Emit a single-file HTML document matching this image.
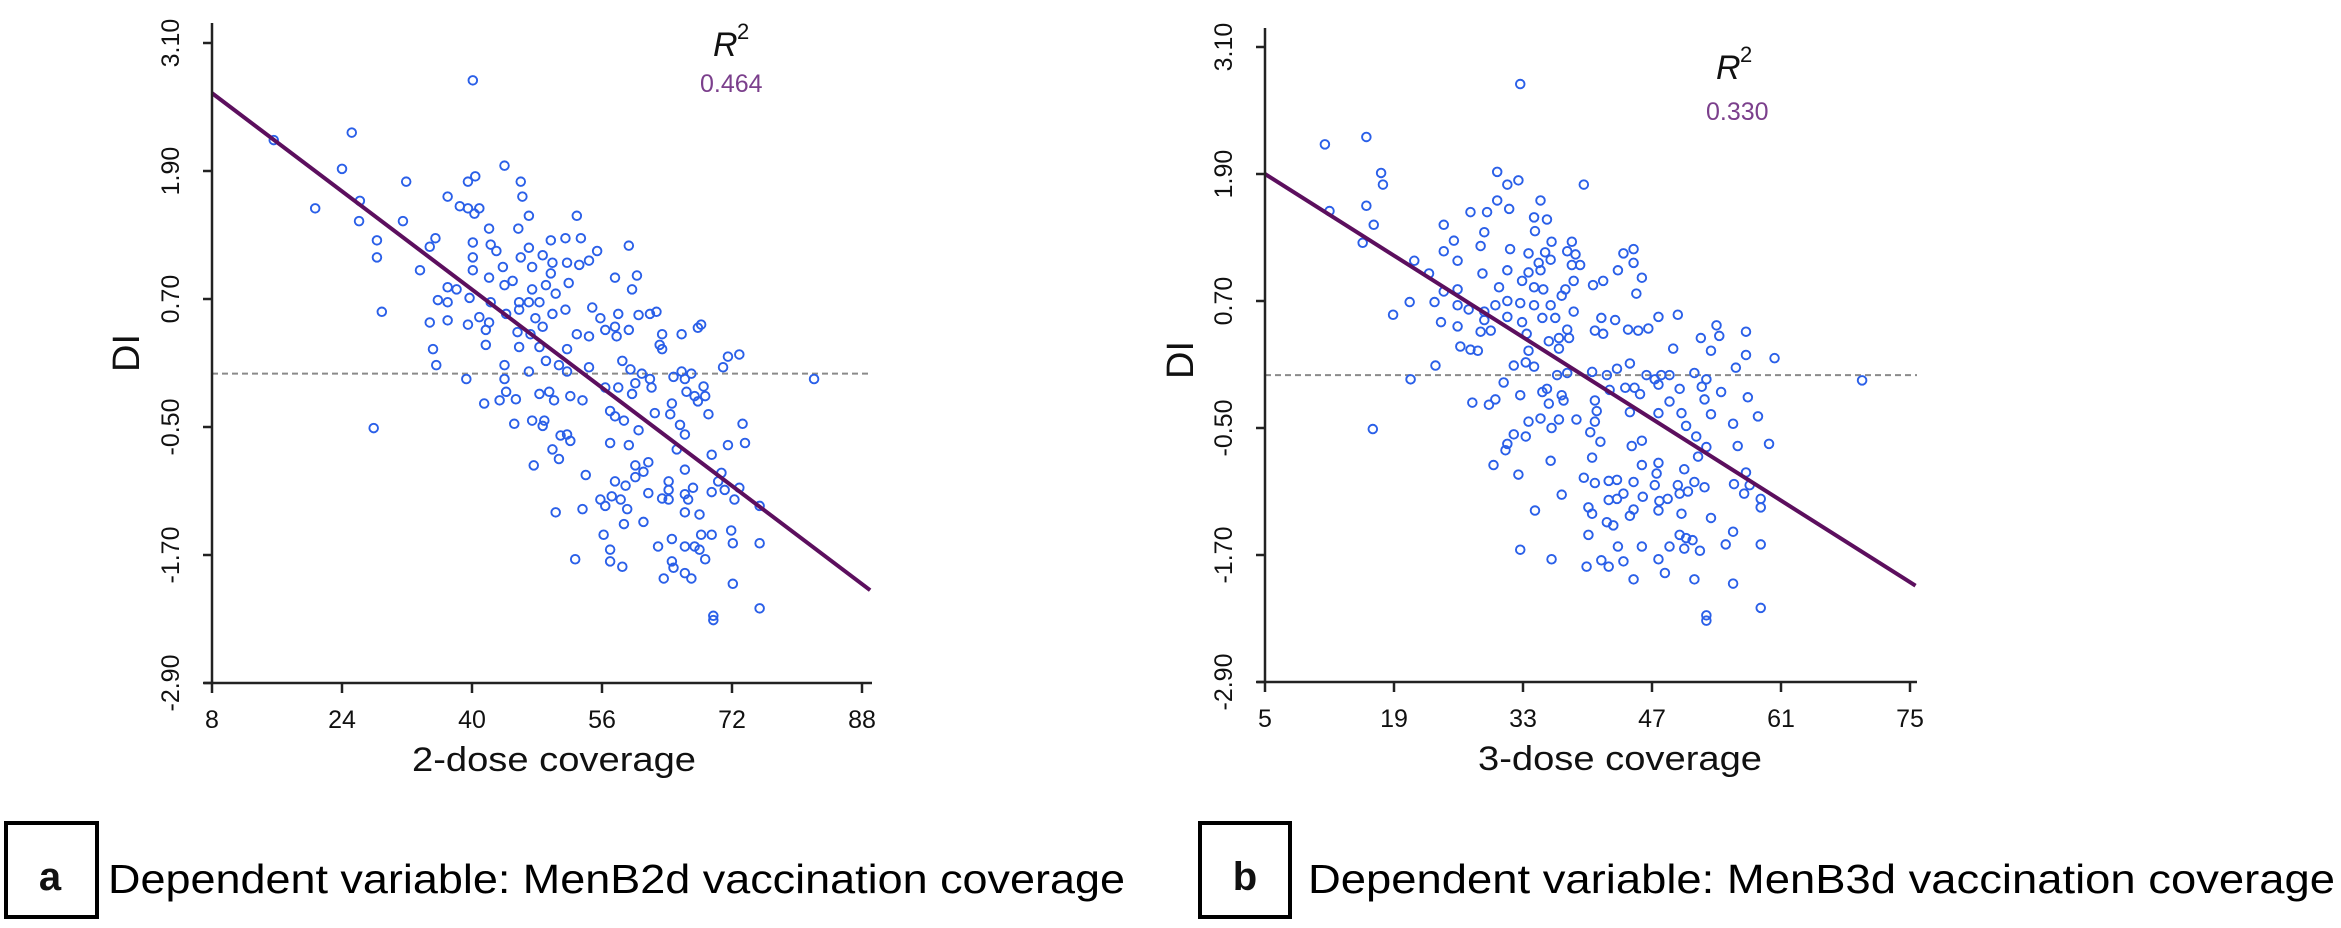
<!DOCTYPE html>
<html><head><meta charset="utf-8"><style>
html,body{margin:0;padding:0;background:#fff;}
svg{display:block;font-family:"Liberation Sans",Arial,sans-serif;}
</style></head><body>
<svg id="fig" width="2341" height="928" viewBox="0 0 2341 928" xmlns="http://www.w3.org/2000/svg">
<g id="chartA"></g>
<g id="chartB"></g>
<g>
<rect x="6" y="823" width="91" height="94" fill="none" stroke="#000" stroke-width="4"/>
<text x="50" y="890" font-size="40" font-weight="bold" text-anchor="middle" fill="#111">a</text>
<text x="108" y="893" font-size="41" textLength="1017" lengthAdjust="spacingAndGlyphs">Dependent variable: MenB2d vaccination coverage</text>
</g>
<g>
<rect x="1200" y="823" width="90" height="94" fill="none" stroke="#000" stroke-width="4"/>
<text x="1245" y="890" font-size="40" font-weight="bold" text-anchor="middle" fill="#111">b</text>
<text x="1308" y="893" font-size="41" textLength="1027" lengthAdjust="spacingAndGlyphs">Dependent variable: MenB3d vaccination coverage</text>
</g>
</svg>
<script>
// ---- Chart A data (2-dose coverage vs DI) ----
const aXTicks = [8, 24, 40, 56, 72, 88];
const aYTicks = [3.10, 1.90, 0.70, -0.50, -1.70, -2.90];
const aFit = [[8, 2.63], [89, -2.03]];
const aR2 = "0.464";
const aX = [15.6,24.0,20.7,40.1,25.2,31.9,44.0,39.5,40.4,46.0,46.2,37.0,38.5,39.5,40.9,40.3,26.2,26.1,31.5,47.0,52.9,42.1,45.7,28.3,28.3,35.5,34.8,40.1,40.1,40.1,42.3,43.0,47.0,46.0,49.7,51.5,53.4,55.4,59.3,48.7,49.9,51.7,53.2,54.4,47.4,43.8,33.6,49.7,42.1,44.0,45.0,57.6,60.3,59.7,37.0,38.1,35.8,37.0,39.7,42.3,45.8,47.4,49.1,50.3,51.9,47.0,48.3,28.9,34.8,37.0,39.5,40.9,42.1,44.2,45.8,47.8,49.9,51.5,54.8,55.8,58.0,60.5,61.9,62.7,41.7,45.6,47.2,48.7,52.9,54.4,56.4,57.6,59.3,57.8,63.4,65.8,67.8,68.2,35.2,35.6,41.7,45.8,48.3,51.7,63.1,63.4,44.0,47.0,49.1,50.7,51.7,54.4,58.5,59.5,60.9,65.8,67.0,70.9,71.5,72.9,82.1,39.3,44.0,56.4,58.0,60.1,61.9,64.8,66.2,68.5,41.5,43.4,45.4,44.2,48.3,49.5,50.1,52.1,53.6,59.7,62.1,66.4,67.4,67.8,68.7,27.9,45.2,47.4,48.9,48.7,57.0,58.7,57.6,62.5,64.4,64.6,69.1,73.3,50.9,51.7,52.1,57.0,59.3,60.5,65.6,66.2,65.2,71.5,73.6,69.5,49.9,50.7,47.6,54.0,60.1,61.7,61.1,66.2,70.7,57.6,58.9,60.1,61.7,64.2,64.2,67.2,66.2,69.5,70.3,71.1,72.9,55.8,57.2,58.3,56.4,59.1,63.4,64.2,66.6,72.3,50.3,53.6,66.2,68.0,75.4,58.7,61.1,56.2,62.9,64.6,66.2,67.4,68.2,69.5,68.0,71.9,72.1,75.4,52.7,57.0,57.0,58.5,64.6,64.8,68.7,63.6,66.2,67.0,72.1,75.4,69.7,69.7];
const aY = [2.19,1.92,1.55,2.75,2.26,1.80,1.95,1.80,1.85,1.80,1.66,1.66,1.57,1.55,1.55,1.50,1.62,1.43,1.43,1.48,1.48,1.36,1.36,1.25,1.09,1.27,1.19,1.23,1.09,0.97,1.21,1.15,1.18,1.09,1.25,1.27,1.27,1.15,1.20,1.11,1.04,1.04,1.02,1.06,1.00,1.00,0.97,0.94,0.90,0.83,0.87,0.90,0.92,0.79,0.81,0.79,0.69,0.67,0.71,0.67,0.67,0.79,0.83,0.75,0.85,0.67,0.67,0.58,0.48,0.50,0.46,0.53,0.48,0.56,0.60,0.52,0.56,0.60,0.62,0.52,0.56,0.55,0.56,0.58,0.41,0.39,0.37,0.44,0.37,0.35,0.41,0.44,0.41,0.35,0.37,0.37,0.43,0.46,0.23,0.08,0.27,0.25,0.25,0.23,0.27,0.23,0.08,0.02,0.12,0.08,0.02,0.06,0.12,0.04,0.00,0.02,0.00,0.06,0.16,0.18,-0.05,-0.05,-0.05,-0.13,-0.13,-0.09,-0.05,-0.03,-0.05,-0.12,-0.28,-0.25,-0.24,-0.17,-0.19,-0.17,-0.25,-0.21,-0.25,-0.19,-0.13,-0.17,-0.21,-0.26,-0.21,-0.51,-0.47,-0.44,-0.44,-0.49,-0.35,-0.44,-0.40,-0.37,-0.38,-0.28,-0.38,-0.47,-0.58,-0.57,-0.63,-0.65,-0.67,-0.53,-0.48,-0.57,-0.71,-0.67,-0.65,-0.76,-0.71,-0.80,-0.86,-0.95,-0.86,-0.83,-0.92,-0.90,-0.93,-1.01,-1.05,-0.97,-1.12,-1.01,-1.09,-1.07,-1.13,-1.11,-1.01,-1.09,-1.07,-1.18,-1.15,-1.18,-1.24,-1.27,-1.17,-1.18,-1.18,-1.18,-1.30,-1.27,-1.30,-1.32,-1.24,-1.41,-1.39,-1.51,-1.62,-1.55,-1.62,-1.62,-1.51,-1.51,-1.65,-1.47,-1.59,-1.59,-1.74,-1.65,-1.76,-1.81,-1.76,-1.82,-1.74,-1.92,-1.87,-1.92,-1.97,-2.20,-2.27,-2.31];

// ---- Chart B data (3-dose coverage vs DI) ----
const bXTicks = [5, 19, 33, 47, 61, 75];
const bYTicks = [3.10, 1.90, 0.70, -0.50, -1.70, -2.90];
const bFit = [[5, 1.90], [75.6, -1.99]];
const bR2 = "0.330";
const bX = [32.7,11.5,16.0,17.6,17.8,12.0,16.0,16.8,15.6,30.2,32.5,31.3,39.6,30.2,34.9,27.3,29.1,31.5,34.2,35.6,24.4,28.8,34.3,25.5,28.4,24.4,25.9,31.6,33.6,36.1,38.3,35.4,37.8,38.7,34.7,36.0,38.3,39.2,43.9,45.0,45.0,43.3,45.9,45.3,28.6,31.3,33.6,34.9,32.9,34.2,35.2,30.4,38.5,37.6,40.6,41.7,21.2,22.8,24.4,25.9,20.7,23.4,18.9,25.9,27.1,28.8,30.0,31.3,32.7,34.2,36.0,37.2,38.5,24.1,25.9,28.8,28.4,29.5,31.3,32.9,35.1,36.5,37.8,33.4,41.5,43.0,40.8,41.7,44.4,45.5,46.6,47.7,49.8,26.2,27.3,28.1,35.8,36.9,38.0,33.6,36.9,52.3,54.0,54.3,57.2,49.3,53.4,57.2,60.3,56.1,23.5,20.8,32.0,33.3,34.2,30.9,36.7,37.8,40.5,42.1,43.2,44.6,46.4,47.3,48.0,48.9,51.6,52.9,27.5,29.3,30.0,32.7,35.1,35.6,35.8,37.2,37.4,40.8,42.4,44.1,45.1,45.7,47.7,50.0,52.4,54.5,52.7,48.9,57.4,41.0,44.6,47.7,50.2,53.4,58.5,55.8,16.7,33.6,34.9,36.1,36.9,38.8,40.8,40.3,32.0,31.3,33.3,41.4,44.8,45.9,50.7,51.8,52.9,56.3,59.7,31.1,29.8,36.0,40.5,45.9,47.7,52.0,50.5,47.5,32.5,39.6,40.8,42.3,43.2,45.0,47.3,49.8,51.6,52.7,55.9,57.2,57.6,57.0,37.2,42.3,43.2,43.9,46.0,47.8,48.7,50.0,50.9,58.8,58.8,34.3,40.1,40.5,45.0,44.6,47.7,50.2,53.4,42.1,42.8,40.1,50.0,50.7,51.4,55.8,55.0,58.8,32.7,36.1,43.3,45.9,48.9,50.5,52.2,39.9,41.5,42.3,43.9,47.7,48.4,45.0,51.6,55.8,58.8,52.9,52.9,69.8];
const bY = [2.75,2.18,2.25,1.91,1.80,1.55,1.60,1.42,1.25,1.92,1.84,1.80,1.80,1.65,1.65,1.54,1.54,1.57,1.49,1.47,1.42,1.35,1.36,1.27,1.22,1.17,1.08,1.19,1.15,1.26,1.26,1.16,1.17,1.14,1.06,1.09,1.04,1.04,1.15,1.19,1.06,0.99,0.92,0.77,0.96,0.99,0.97,0.99,0.89,0.83,0.81,0.83,0.89,0.81,0.85,0.89,1.08,0.96,0.79,0.81,0.69,0.69,0.57,0.66,0.62,0.60,0.66,0.70,0.68,0.66,0.66,0.75,0.60,0.50,0.46,0.52,0.41,0.42,0.55,0.50,0.54,0.54,0.43,0.39,0.54,0.52,0.42,0.39,0.43,0.42,0.44,0.55,0.57,0.27,0.24,0.23,0.32,0.35,0.35,0.23,0.25,0.35,0.47,0.37,0.41,0.25,0.23,0.19,0.16,0.07,0.09,-0.04,0.09,0.12,0.08,-0.07,0.00,0.02,0.03,0.00,0.06,0.11,0.00,-0.04,0.00,0.00,0.02,-0.04,-0.26,-0.28,-0.23,-0.19,-0.16,-0.13,-0.27,-0.19,-0.24,-0.24,-0.14,-0.12,-0.12,-0.18,-0.09,-0.13,-0.11,-0.16,-0.23,-0.25,-0.21,-0.34,-0.35,-0.36,-0.36,-0.37,-0.39,-0.46,-0.51,-0.44,-0.41,-0.50,-0.42,-0.42,-0.44,-0.54,-0.56,-0.65,-0.58,-0.63,-0.67,-0.62,-0.48,-0.58,-0.68,-0.67,-0.65,-0.71,-0.85,-0.81,-0.78,-0.85,-0.83,-0.77,-0.89,-0.93,-0.94,-0.97,-1.02,-1.00,-0.99,-1.01,-1.04,-1.04,-1.01,-1.06,-1.03,-0.92,-1.04,-1.12,-1.13,-1.18,-1.17,-1.12,-1.15,-1.19,-1.17,-1.12,-1.10,-1.17,-1.25,-1.28,-1.25,-1.31,-1.27,-1.33,-1.28,-1.31,-1.35,-1.39,-1.42,-1.51,-1.51,-1.54,-1.56,-1.48,-1.60,-1.60,-1.65,-1.74,-1.62,-1.62,-1.62,-1.64,-1.66,-1.81,-1.75,-1.81,-1.76,-1.74,-1.87,-1.93,-1.93,-1.97,-2.20,-2.27,-2.32,-0.05];

const NS = "http://www.w3.org/2000/svg";
function mk(parent, tag, attrs, text) {
  const e = document.createElementNS(NS, tag);
  for (const k in attrs) e.setAttribute(k, attrs[k]);
  if (text !== undefined) e.textContent = text;
  parent.appendChild(e);
  return e;
}

function drawChart(g, cfg) {
  const xs = v => cfg.x0 + (v - cfg.xMin) / (cfg.xMax - cfg.xMin) * (cfg.x1 - cfg.x0);
  const ys = v => cfg.yBot + (v - cfg.yMin) / (cfg.yMax - cfg.yMin) * (cfg.yTop - cfg.yBot);

  const zl = mk(g, "line", {x1: cfg.axisX, x2: cfg.dashEnd, y1: ys(0), y2: ys(0), stroke: "#8a8a8a", "stroke-width": 2, "stroke-dasharray": "6 4"});
  
  

  for (let i = 0; i < cfg.xs.length; i++) {
    const c = mk(g, "circle", {cx: xs(cfg.xs[i]), cy: ys(cfg.ys[i]), r: 4.3, fill: "none", stroke: "#2a5fe8", "stroke-width": 1.9});
    
    
  }

  const fl = mk(g, "line", {x1: xs(cfg.fit[0][0]), y1: ys(cfg.fit[0][1]), x2: xs(cfg.fit[1][0]), y2: ys(cfg.fit[1][1]), stroke: "#5c0f5e", "stroke-width": 4});
  
  

  const ya = mk(g, "line", {x1: cfg.axisX, x2: cfg.axisX, y1: cfg.axisTop, y2: cfg.axisY, stroke: "#222", "stroke-width": 2.5});
  
  
  const xa = mk(g, "line", {x1: cfg.axisX - 8, x2: cfg.axisRight, y1: cfg.axisY, y2: cfg.axisY, stroke: "#222", "stroke-width": 2.5});
  
  

  cfg.yTicks.forEach(t => {
    const y = ys(t);
    const tk = mk(g, "line", {x1: cfg.axisX - 9, x2: cfg.axisX, y1: y, y2: y, stroke: "#222", "stroke-width": 2.5});
    
    
    const lb = mk(g, "text", {x: cfg.yLabelX, y: y, "font-size": 25, "text-anchor": "middle", "dominant-baseline": "central", transform: `rotate(-90 ${cfg.yLabelX} ${y})`, fill: "#111"}, t.toFixed(2));
    
    
  });
  cfg.xTicks.forEach(t => {
    const x = xs(t);
    const tk = mk(g, "line", {x1: x, x2: x, y1: cfg.axisY, y2: cfg.axisY + 10, stroke: "#222", "stroke-width": 2.5});
    
    
    const lb = mk(g, "text", {x: x, y: cfg.axisY + 45, "font-size": 25, "text-anchor": "middle", fill: "#111"}, String(t));
    
    
  });

  const xt = mk(g, "text", {x: cfg.xTitleX, y: cfg.axisY + 88, "font-size": 34, "text-anchor": "middle", textLength: 284, lengthAdjust: "spacingAndGlyphs", fill: "#111"}, cfg.xTitle);
  
  
  const yt = mk(g, "text", {x: cfg.diX, y: cfg.diY, "font-size": 38, "text-anchor": "middle", "dominant-baseline": "central", transform: `rotate(-90 ${cfg.diX} ${cfg.diY})`, fill: "#111"}, "DI");
  
  

  const r = mk(g, "text", {x: cfg.rX, y: cfg.rY, "font-size": 34, "font-style": "italic", fill: "#111"}, "R");
  
  
  const r2 = mk(g, "text", {x: cfg.rX + 24, y: cfg.rY - 17, "font-size": 22, fill: "#111"}, "2");
  
  
  const rv = mk(g, "text", {x: cfg.rvX, y: cfg.rvY, "font-size": 25, fill: "#7b3f8c"}, cfg.r2);
  
  
}

drawChart(document.getElementById("chartA"), {
  xs: aX, ys: aY, fit: aFit, r2: aR2, xTicks: aXTicks, yTicks: aYTicks,
  xMin: 8, xMax: 88, x0: 212, x1: 862, yMin: -2.90, yMax: 3.10, yBot: 683, yTop: 43,
  axisX: 212, axisY: 683, axisTop: 23, axisRight: 872, dashEnd: 870,
  yLabelX: 171, xTitle: "2-dose coverage", xTitleX: 554, diX: 127, diY: 353,
  rX: 713, rY: 56, rvX: 700, rvY: 92
});
drawChart(document.getElementById("chartB"), {
  xs: bX, ys: bY, fit: bFit, r2: bR2, xTicks: bXTicks, yTicks: bYTicks,
  xMin: 5, xMax: 75, x0: 1265, x1: 1910, yMin: -2.90, yMax: 3.10, yBot: 682, yTop: 47,
  axisX: 1265, axisY: 682, axisTop: 28, axisRight: 1917, dashEnd: 1917,
  yLabelX: 1224, xTitle: "3-dose coverage", xTitleX: 1620, diX: 1181, diY: 360,
  rX: 1716, rY: 79, rvX: 1706, rvY: 120
});
</script>
</body></html>
